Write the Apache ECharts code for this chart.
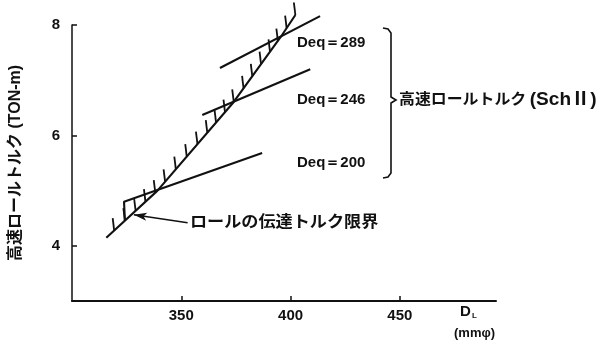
<!DOCTYPE html>
<html>
<head>
<meta charset="utf-8">
<script src="https://cdn.jsdelivr.net/npm/echarts@6/dist/echarts.min.js"></script>
<style>
  html, body { margin: 0; padding: 0; background: #fff; }
  #chart { width: 616px; height: 351px; }
</style>
</head>
<body>
<div id="chart"></div>
<script>
// Axis tick values
const xTicks = [350, 400, 450];
const yTicks = [4, 6, 8];

// Roll transmission torque limit curve (D_L, torque)
const limitCurve = [[315.7, 4.145], [339.0, 4.995], [374.0, 6.606], [395.5, 7.783], [402.2, 8.181]];

// Foot points of the hatch marks along the limit curve
const hatchBase = [
  [319.3, 4.275], [324.2, 4.456], [329.1, 4.635], [333.6, 4.800], [338.1, 4.963],
  [342.6, 5.160], [347.5, 5.388], [352.5, 5.614], [357.4, 5.843], [361.9, 6.049],
  [365.9, 6.235], [370.0, 6.420], [374.0, 6.606], [378.5, 6.851], [382.5, 7.071],
  [386.5, 7.292], [390.6, 7.513], [394.2, 7.709], [398.2, 7.942], [402.2, 8.181]
];

// High-speed roll torque lines for each equivalent diameter
const deq200 = [[324.2, 4.456], [323.8, 4.80], [387.0, 5.68]];
const deq246 = [[359.6, 6.37], [409.0, 7.20]];
const deq289 = [[367.7, 7.22], [413.5, 8.16]];
const deqLabels = ['Deq＝289', 'Deq＝246', 'Deq＝200'];

// Pointer to the limit curve
const limitArrow = [[352.9, 4.416], [328.3, 4.561]];

const yAxisTitle = '高速ロールトルク (TON-m)';
const groupTitleJa = '高速ロールトルク';
const groupTitleSch = '(SchⅡ)';
const limitTitle = 'ロールの伝達トルク限界';

const INK = '#111';
const NUM_FONT = "'Liberation Sans', 'DejaVu Sans', sans-serif";
const JP_FONT = "'Liberation Sans', 'Noto Sans CJK JP', sans-serif";

const chart = echarts.init(document.getElementById('chart'), null, { renderer: 'canvas' });

const lineStyle = { color: INK, width: 2.1 };
function seg(data) {
  return { type: 'line', data: data, symbol: 'none', silent: true, clip: false, lineStyle: lineStyle, z: 3 };
}

const labelY = [43, 100, 163];
const bracketStroke = { stroke: INK, lineWidth: 1.6, fill: null };

chart.setOption({
  animation: false,
  backgroundColor: '#fff',
  grid: { left: 64, right: 120, top: 25, bottom: 50, containLabel: false },
  xAxis: {
    type: 'value', min: 300, max: 494,
    axisLine: { lineStyle: { color: INK, width: 2 } },
    axisTick: { inside: true, length: 5, lineStyle: { color: INK, width: 1.5 }, customValues: xTicks },
    axisLabel: { customValues: xTicks, margin: 7, color: INK, fontSize: 15, fontWeight: 'bold', fontFamily: NUM_FONT },
    splitLine: { show: false }
  },
  yAxis: {
    type: 'value', min: 3, max: 8,
    name: yAxisTitle, nameLocation: 'middle', nameRotate: 90, nameGap: 48,
    nameTextStyle: { color: INK, fontSize: 16, fontWeight: 'bold', fontFamily: JP_FONT },
    axisLine: { show: true, lineStyle: { color: INK, width: 1.5 } },
    axisTick: { show: true, inside: true, length: 5, lineStyle: { color: INK, width: 1.5 }, customValues: yTicks },
    axisLabel: { customValues: yTicks, margin: 12, color: INK, fontSize: 15, fontWeight: 'bold', fontFamily: NUM_FONT },
    splitLine: { show: false }
  },
  series: [
    Object.assign(seg(limitCurve), {
      markLine: {
        silent: true, symbol: ['none', 'arrow'], symbolSize: [6, 13],
        label: { show: false },
        lineStyle: { color: INK, width: 1.5, type: 'solid' },
        data: [[{ coord: limitArrow[0] }, { coord: limitArrow[1] }]]
      }
    }),
    {
      type: 'custom', silent: true, z: 3, clip: false,
      data: hatchBase,
      renderItem: function (params, api) {
        const p = api.coord([api.value(0), api.value(1)]);
        return {
          type: 'line',
          shape: { x1: p[0], y1: p[1], x2: p[0] - 1.5, y2: p[1] - 12.5 },
          style: { stroke: INK, lineWidth: 1.8 }
        };
      }
    },
    seg(deq200),
    seg(deq246),
    seg(deq289)
  ],
  graphic: [
    ...deqLabels.map((t, i) => ({
      type: 'text', x: 297, y: labelY[i],
      style: { text: t, fill: INK, font: "bold 15px " + NUM_FONT, textVerticalAlign: 'middle' }
    })),
    // right-hand brace grouping the three Deq lines
    {
      type: 'polyline', silent: true,
      shape: { points: [[383, 28], [388, 29], [391, 33], [391, 97], [396, 100], [391, 103], [391, 173], [388, 177], [383, 178]] },
      style: bracketStroke
    },
    {
      type: 'text', x: 399, y: 100, scaleX: 1.06,
      style: {
        text: '{a|' + groupTitleJa + '} {b|' + groupTitleSch + '}',
        fill: INK, textVerticalAlign: 'middle',
        rich: {
          a: { fontSize: 15, fontWeight: 'bold', fontFamily: JP_FONT, fill: INK },
          b: { fontSize: 18, fontWeight: 'bold', fontFamily: JP_FONT, fill: INK }
        }
      }
    },
    {
      type: 'text', x: 190, y: 223, scaleX: 1.07,
      style: { text: limitTitle, fill: INK, font: "bold 16px " + JP_FONT, textVerticalAlign: 'middle' }
    },
    {
      type: 'text', x: 460, y: 312,
      style: { text: 'D', fill: INK, font: "bold 15px 'Liberation Sans', sans-serif", textVerticalAlign: 'middle' }
    },
    {
      type: 'text', x: 472, y: 316,
      style: { text: 'L', fill: INK, font: "bold 8px 'Liberation Sans', sans-serif", textVerticalAlign: 'middle' }
    },
    {
      type: 'text', x: 454, y: 333,
      style: { text: '(mmφ)', fill: INK, font: "bold 13px 'Liberation Sans', sans-serif", textVerticalAlign: 'middle' }
    }
  ]
});
</script>
</body>
</html>
